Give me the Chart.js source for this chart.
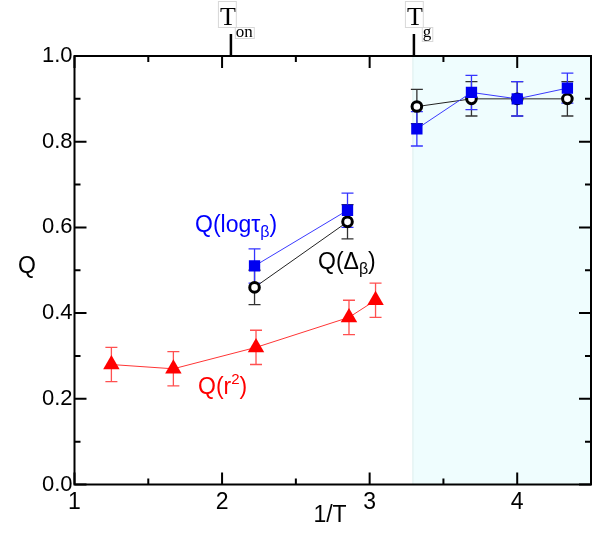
<!DOCTYPE html>
<html>
<head>
<meta charset="utf-8">
<script src="https://cdn.jsdelivr.net/npm/chart.js@4"></script>
<style>
html,body{margin:0;padding:0;background:#fff;}
#wrap{width:602px;height:533px;position:relative;}
</style>
</head>
<body>
<div id="wrap"><canvas id="c" width="602" height="533"></canvas></div>
<script>
// ---- data ----
const xTickValues = [1, 2, 3, 4];
const xMinorValues = [1.5, 2.5, 3.5];
const yTickValues = [0, 0.2, 0.4, 0.6, 0.8, 1.0];
const yMinorValues = [0.1, 0.3, 0.5, 0.7, 0.9];

const r2X = [1.25, 1.67, 2.23, 2.86, 3.04];
const r2Y = [0.28, 0.27, 0.32, 0.39, 0.43];
const r2Err = [0.04, 0.04, 0.04, 0.04, 0.04];

const tauX = [2.22, 2.85, 3.32, 3.69, 4.00, 4.34];
const tauY = [0.51, 0.64, 0.83, 0.915, 0.90, 0.925];
const tauErr = [0.04, 0.04, 0.04, 0.04, 0.04, 0.035];

const deltaX = [2.22, 2.85, 3.32, 3.69, 4.00, 4.34];
const deltaY = [0.46, 0.613, 0.882, 0.90, 0.90, 0.90];
const deltaErr = [0.04, 0.04, 0.04, 0.04, 0.04, 0.04];

const gapAfterIndex = 1; // no line between 2nd and 3rd points of tau/delta series

const shadeFrom = 3.29;
const markerX = [2.06, 3.30];
const markerMain = ['T', 'T'];
const markerSub = ['on', 'g'];

// ---- helpers ----
const pts = (xs, ys) => xs.map((x, i) => ({x: x, y: ys[i]}));
const FONT = '"Liberation Sans", Arial, sans-serif';
const SERIF = '"Liberation Serif", "Times New Roman", serif';

function drawRichText(ctx, x, baseline, parts, color) {
  ctx.save();
  ctx.fillStyle = color;
  ctx.textBaseline = 'alphabetic';
  ctx.textAlign = 'left';
  let cx = x;
  for (const p of parts) {
    ctx.font = p[1] + 'px ' + FONT;
    ctx.fillText(p[0], cx, baseline + p[2]);
    cx += ctx.measureText(p[0]).width;
  }
  ctx.restore();
}

const decorPlugin = {
  id: 'decor',
  beforeDatasetsDraw(chart) {
    const ctx = chart.ctx;
    const xs = chart.scales.x, ys = chart.scales.y;
    const a = chart.chartArea;
    const sx = xs.getPixelForValue(shadeFrom);
    ctx.save();
    ctx.fillStyle = '#effdfe';
    ctx.fillRect(sx, a.top, a.right - sx, a.bottom - a.top);
    ctx.strokeStyle = '#dfeeee';
    ctx.lineWidth = 1;
    ctx.beginPath(); ctx.moveTo(sx + 0.5, a.top); ctx.lineTo(sx + 0.5, a.bottom); ctx.stroke();
    ctx.restore();
    const series = [
      [deltaX, deltaY, deltaErr, '#333333'],
      [r2X, r2Y, r2Err, '#ff5050'],
      [tauX, tauY, tauErr, '#3535ff']
    ];
    ctx.save();
    ctx.lineWidth = 1.3;
    for (const s of series) {
      ctx.strokeStyle = s[3];
      for (let i = 0; i < s[0].length; i++) {
        const px = xs.getPixelForValue(s[0][i]);
        const top = ys.getPixelForValue(s[1][i] + s[2][i]);
        const bot = ys.getPixelForValue(s[1][i] - s[2][i]);
        ctx.beginPath();
        ctx.moveTo(px, top); ctx.lineTo(px, bot);
        ctx.moveTo(px - 6, top); ctx.lineTo(px + 6, top);
        ctx.moveTo(px - 6, bot); ctx.lineTo(px + 6, bot);
        ctx.stroke();
      }
    }
    ctx.restore();
  },
  afterDraw(chart) {
    const ctx = chart.ctx;
    const xs = chart.scales.x, ys = chart.scales.y;
    const a = chart.chartArea;
    ctx.save();
    ctx.strokeStyle = '#000';
    ctx.lineWidth = 2;
    ctx.strokeRect(a.left, a.top, a.right - a.left, a.bottom - a.top);
    ctx.beginPath();
    for (const v of xTickValues) {
      const p = xs.getPixelForValue(v);
      ctx.moveTo(p, a.bottom); ctx.lineTo(p, a.bottom - 12);
      ctx.moveTo(p, a.top); ctx.lineTo(p, a.top + 12);
    }
    for (const v of xMinorValues) {
      const p = xs.getPixelForValue(v);
      ctx.moveTo(p, a.bottom); ctx.lineTo(p, a.bottom - 6);
      ctx.moveTo(p, a.top); ctx.lineTo(p, a.top + 6);
    }
    for (const v of yTickValues) {
      const p = ys.getPixelForValue(v);
      ctx.moveTo(a.left, p); ctx.lineTo(a.left + 12, p);
      ctx.moveTo(a.right, p); ctx.lineTo(a.right - 12, p);
    }
    for (const v of yMinorValues) {
      const p = ys.getPixelForValue(v);
      ctx.moveTo(a.left, p); ctx.lineTo(a.left + 6, p);
      ctx.moveTo(a.right, p); ctx.lineTo(a.right - 6, p);
    }
    ctx.stroke();
    ctx.lineWidth = 2.5;
    ctx.beginPath();
    for (let i = 0; i < markerX.length; i++) {
      const p = xs.getPixelForValue(markerX[i]);
      ctx.moveTo(p, a.top); ctx.lineTo(p, a.top - 22);
    }
    ctx.stroke();
    for (let i = 0; i < markerX.length; i++) {
      const p = xs.getPixelForValue(markerX[i]);
      const tx = p - (i === 0 ? 11 : 7);
      ctx.font = '26px ' + SERIF;
      ctx.fillStyle = '#000';
      ctx.textBaseline = 'alphabetic';
      ctx.textAlign = 'left';
      const tw = ctx.measureText(markerMain[i]).width;
      ctx.fillText(markerMain[i], tx, 25);
      ctx.font = '17px ' + SERIF;
      const sw = ctx.measureText(markerSub[i]).width;
      ctx.fillText(markerSub[i], tx + tw, 37);
      ctx.strokeStyle = '#d8d8d8';
      ctx.lineWidth = 1;
      ctx.strokeRect(tx - 1.5, 1.5, tw + 2, 26);
      ctx.strokeRect(tx + tw - 0.5, 27.5, sw + 2, i === 0 ? 11 : 14);
    }
    ctx.fillStyle = '#000';
    ctx.font = '23px ' + FONT;
    ctx.textAlign = 'center';
    ctx.textBaseline = 'alphabetic';
    ctx.fillText('Q', 27, 273);
    ctx.fillText('1/T', 330, 522);
    ctx.restore();
    drawRichText(ctx, 195, 232, [['Q(log\u03C4', 23, 0], ['\u03B2', 16, 5], [')', 23, 0]], '#0000ff');
    drawRichText(ctx, 318, 269, [['Q(\u0394', 23, 0], ['\u03B2', 16, 5], [')', 23, 0]], '#000000');
    drawRichText(ctx, 198, 394, [['Q(r', 23, 0], ['2', 15, -10], [')', 23, 0]], '#ff0000');
  }
};

const gapSeg = (color) => ({
  borderColor: (c) => c.p0DataIndex === gapAfterIndex ? 'rgba(0,0,0,0)' : color
});

new Chart(document.getElementById('c'), {
  type: 'scatter',
  data: {
    datasets: [
      {
        label: 'Q(log tau_beta)',
        data: pts(tauX, tauY),
        showLine: true,
        borderColor: '#3a3aff',
        borderWidth: 1,
        segment: gapSeg('#3a3aff'),
        pointStyle: 'rect',
        pointRadius: 8,
        pointBackgroundColor: '#0000f0',
        pointBorderColor: '#0000f0',
        pointBorderWidth: 0
      },
      {
        label: 'Q(Delta_beta)',
        data: pts(deltaX, deltaY),
        showLine: true,
        borderColor: '#222',
        borderWidth: 1,
        segment: gapSeg('#222'),
        pointStyle: 'circle',
        pointRadius: 4.8,
        pointBackgroundColor: '#fff',
        pointBorderColor: '#000',
        pointBorderWidth: 3
      },
      {
        label: 'Q(r^2)',
        data: pts(r2X, r2Y),
        showLine: true,
        borderColor: '#ff3535',
        borderWidth: 1,
        pointStyle: 'triangle',
        pointRadius: 9.5,
        pointBackgroundColor: '#ff0000',
        pointBorderColor: '#ff0000',
        pointBorderWidth: 0
      }
    ]
  },
  options: {
    responsive: false,
    animation: false,
    devicePixelRatio: 1,
    layout: {padding: {left: 0, right: 11, top: 56, bottom: 0}},
    plugins: {legend: {display: false}, tooltip: {enabled: false}},
    scales: {
      x: {
        type: 'linear',
        min: 1, max: 4.5,
        grid: {display: false, drawTicks: false},
        border: {display: false},
        afterBuildTicks: (s) => { s.ticks = xTickValues.map(v => ({value: v})); },
        afterFit: (s) => { s.height = 48.5; },
        ticks: {
          padding: 4,
          color: '#000',
          font: {family: FONT, size: 23},
          callback: (v) => String(v)
        }
      },
      y: {
        type: 'linear',
        min: 0, max: 1,
        grid: {display: false, drawTicks: false},
        border: {display: false},
        afterBuildTicks: (s) => { s.ticks = yTickValues.map(v => ({value: v})); },
        afterFit: (s) => { s.width = 74.5; },
        ticks: {
          padding: 2,
          color: '#000',
          font: {family: FONT, size: 22},
          callback: (v) => Number(v).toFixed(1)
        }
      }
    }
  },
  plugins: [decorPlugin]
});
</script>
</body>
</html>
